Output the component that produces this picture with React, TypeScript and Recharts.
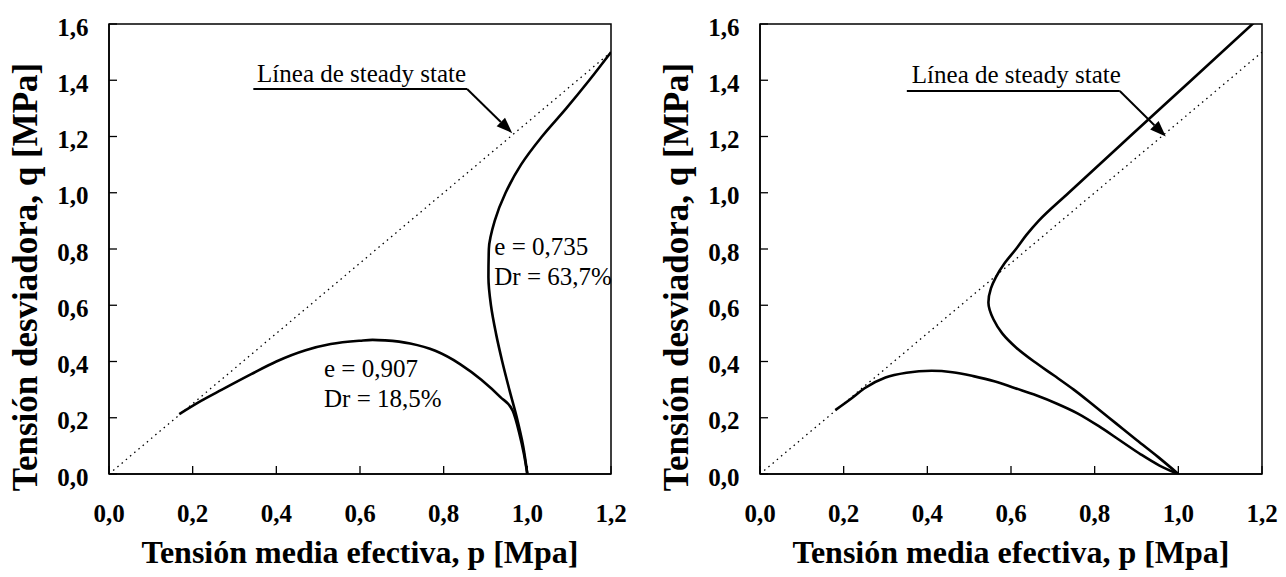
import React from 'react';
import {
    LineChart,
    Line,
    XAxis,
    YAxis,
    ReferenceArea,
    ReferenceLine,
    ReferenceDot,
} from 'recharts';

// axis ticks
const pTicks = [0, 0.2, 0.4, 0.6, 0.8, 1.0, 1.2];
const qTicks = [0, 0.2, 0.4, 0.6, 0.8, 1.0, 1.2, 1.4, 1.6];

// steady state line q = 1.25 p
const steadyP = [0, 1.2];
const steadyQ = [0, 1.5];

// left chart: e = 0,907 (loose)
const looseP = [0.168, 0.22, 0.27, 0.34, 0.40, 0.47, 0.53, 0.60, 0.63, 0.66, 0.72, 0.78, 0.84, 0.89, 0.935, 0.965, 0.98, 0.992, 1.0];
const looseQ = [0.213, 0.26, 0.30, 0.355, 0.40, 0.44, 0.462, 0.474, 0.477, 0.475, 0.464, 0.438, 0.39, 0.335, 0.274, 0.225, 0.15, 0.07, 0.0];

// left chart: e = 0,735 (dense)
const denseP = [1.0, 0.99, 0.975, 0.957, 0.94, 0.925, 0.913, 0.907, 0.908, 0.922, 0.948, 0.985, 1.035, 1.093, 1.148, 1.2];
const denseQ = [0.0, 0.1, 0.2, 0.3, 0.4, 0.5, 0.6, 0.7, 0.8, 0.9, 1.0, 1.1, 1.2, 1.3, 1.4, 1.5];

// right chart: lower curve
const lowP = [0.18, 0.22, 0.25, 0.30, 0.35, 0.41, 0.46, 0.51, 0.56, 0.61, 0.66, 0.71, 0.76, 0.81, 0.86, 0.91, 0.955, 1.0];
const lowQ = [0.227, 0.27, 0.305, 0.343, 0.36, 0.367, 0.362, 0.348, 0.33, 0.305, 0.28, 0.25, 0.215, 0.17, 0.12, 0.07, 0.03, 0.0];

// right chart: upper curve
const highP = [1.0, 0.952, 0.901, 0.851, 0.801, 0.75, 0.703, 0.655, 0.612, 0.579, 0.558, 0.546, 0.552, 0.564, 0.585, 0.612, 0.637, 0.666, 0.738, 0.884, 1.031, 1.192];
const highQ = [0.0, 0.06, 0.12, 0.18, 0.24, 0.30, 0.35, 0.40, 0.45, 0.50, 0.55, 0.61, 0.66, 0.70, 0.75, 0.80, 0.85, 0.90, 1.0, 1.2, 1.4, 1.62];

const zip = (ps: number[], qs: number[]) => ps.map((p, i) => ({ p, q: qs[i] }));

const serif = '"Liberation Serif", "Times New Roman", serif';
const fmt = (v: number) => v.toFixed(1).replace('.', ',');

const XTick = (props: any) => {
    const { x, y, payload } = props;
    return (
        <g>
            <line x1={x} y1={y} x2={x} y2={y - 8} stroke="#000" strokeWidth={1.3} />
            <text x={x} y={y + 48} textAnchor="middle" fontSize={25} fontWeight={700} fontFamily={serif} fill="#000">
                {fmt(payload.value)}
            </text>
        </g>
    );
};

const YTick = (props: any) => {
    const { x, y, payload } = props;
    return (
        <g>
            <line x1={x} y1={y} x2={x + 8} y2={y} stroke="#000" strokeWidth={1.3} />
            <text x={x - 20.5} y={y + 11.5} textAnchor="end" fontSize={25} fontWeight={700} fontFamily={serif} fill="#000">
                {fmt(payload.value)}
            </text>
        </g>
    );
};

const Arrow = (props: any) => {
    const { x1, y1, x2, y2 } = props;
    const len = Math.hypot(x2 - x1, y2 - y1);
    const ux = (x2 - x1) / len;
    const uy = (y2 - y1) / len;
    const bx = x2 - ux * 16;
    const by = y2 - uy * 16;
    const pts = `${x2},${y2} ${bx - uy * 6},${by + ux * 6} ${bx + uy * 6},${by - ux * 6}`;
    return (
        <g>
            <line x1={x1} y1={y1} x2={bx} y2={by} stroke="#000" strokeWidth={2} />
            <polygon points={pts} fill="#000" />
        </g>
    );
};

const textLabel = (lines: string[]) => (props: any) => {
    const { viewBox } = props;
    return (
        <text x={viewBox.x} y={viewBox.y} fontSize={25} fontFamily={serif} fill="#000">
            {lines.map((l, i) => (
                <tspan key={i} x={viewBox.x} dy={i === 0 ? 0 : 30}>
                    {l}
                </tspan>
            ))}
        </text>
    );
};

const YTitle = (props: any) => {
    const { viewBox } = props;
    const cx = viewBox.x + 37;
    const cy = viewBox.y + viewBox.height / 2 + 28;
    return (
        <text x={cx} y={cy} transform={`rotate(-90, ${cx}, ${cy})`} textAnchor="middle" fontSize={35} fontWeight={700} fontFamily={serif} fill="#000">
            Tensión desviadora, q [MPa]
        </text>
    );
};

const XTitle = (props: any) => {
    const { viewBox } = props;
    return (
        <text x={viewBox.x + viewBox.width / 2} y={viewBox.y + 89} textAnchor="middle" fontSize={32} fontWeight={700} fontFamily={serif} fill="#000">
            Tensión media efectiva, p [Mpa]
        </text>
    );
};

interface PanelProps {
    width: number;
    curves: Array<Array<{ p: number; q: number }>>;
    curveTypes: Array<'monotoneX' | 'monotoneY'>;
    leader: { x0: number; x1: number; y: number; tipX: number; tipY: number };
    labelPos: { p: number; q: number };
    notes: Array<{ p: number; q: number; lines: string[] }>;
}

function Panel({ width, curves, curveTypes, leader, labelPos, notes }: PanelProps) {
    return (
        <LineChart width={width} height={577} margin={{ top: 24, right: width - 611, left: 0, bottom: 0 }}>
            <XAxis
                type="number"
                dataKey="p"
                domain={[0, 1.2]}
                ticks={pTicks}
                allowDataOverflow
                height={103}
                tickSize={0}
                tickMargin={0}
                tickLine={false}
                axisLine={{ stroke: '#000', strokeWidth: 1.5 }}
                tick={<XTick />}
                label={XTitle}
            />
            <YAxis
                type="number"
                dataKey="q"
                domain={[0, 1.6]}
                ticks={qTicks}
                allowDataOverflow
                width={109}
                tickSize={0}
                tickMargin={0}
                tickLine={false}
                axisLine={{ stroke: '#000', strokeWidth: 1.5 }}
                tick={<YTick />}
                label={YTitle}
            />
            <ReferenceArea x1={0} x2={1.2} y1={0} y2={1.6} fill="none" stroke="#000" strokeWidth={1.5} fillOpacity={0} />
            <Line
                data={zip(steadyP, steadyQ)}
                dataKey="q"
                type="linear"
                stroke="#000"
                strokeWidth={1.3}
                strokeDasharray="1.5 4"
                dot={false}
                isAnimationActive={false}
            />
            {curves.map((c, i) => (
                <Line
                    key={i}
                    data={c}
                    dataKey="q"
                    type={curveTypes[i]}
                    stroke="#000"
                    strokeWidth={2.6}
                    dot={false}
                    isAnimationActive={false}
                />
            ))}
            <ReferenceLine
                segment={[{ x: leader.x0, y: leader.y }, { x: leader.x1, y: leader.y }]}
                stroke="#000"
                strokeWidth={2}
            />
            <ReferenceLine
                segment={[{ x: leader.x1, y: leader.y }, { x: leader.tipX, y: leader.tipY }]}
                shape={Arrow}
            />
            <ReferenceDot x={labelPos.p} y={labelPos.q} r={0} label={textLabel(['Línea de steady state'])} />
            {notes.map((n, i) => (
                <ReferenceDot key={i} x={n.p} y={n.q} r={0} label={textLabel(n.lines)} />
            ))}
        </LineChart>
    );
}

export default function App() {
    return (
        <div style={{ position: 'absolute', left: 0, top: 0, width: 1286, height: 577, background: '#fff', overflow: 'hidden' }}>
            <div style={{ position: 'absolute', left: 0, top: 0 }}>
                <Panel
                    width={640}
                    curves={[zip(looseP, looseQ), zip(denseP, denseQ)]}
                    curveTypes={['monotoneX', 'monotoneY']}
                    leader={{ x0: 0.345, x1: 0.856, y: 1.369, tipX: 0.964, tipY: 1.212 }}
                    labelPos={{ p: 0.354, q: 1.394 }}
                    notes={[
                        { p: 0.514, q: 0.345, lines: ['e = 0,907', 'Dr = 18,5%'] },
                        { p: 0.921, q: 0.779, lines: ['e = 0,735', 'Dr = 63,7%'] },
                    ]}
                />
            </div>
            <div style={{ position: 'absolute', left: 651, top: 0 }}>
                <Panel
                    width={640}
                    curves={[zip(lowP, lowQ), zip(highP, highQ)]}
                    curveTypes={['monotoneX', 'monotoneY']}
                    leader={{ x0: 0.351, x1: 0.86, y: 1.362, tipX: 0.97, tipY: 1.2 }}
                    labelPos={{ p: 0.363, q: 1.39 }}
                    notes={[]}
                />
            </div>
        </div>
    );
}
